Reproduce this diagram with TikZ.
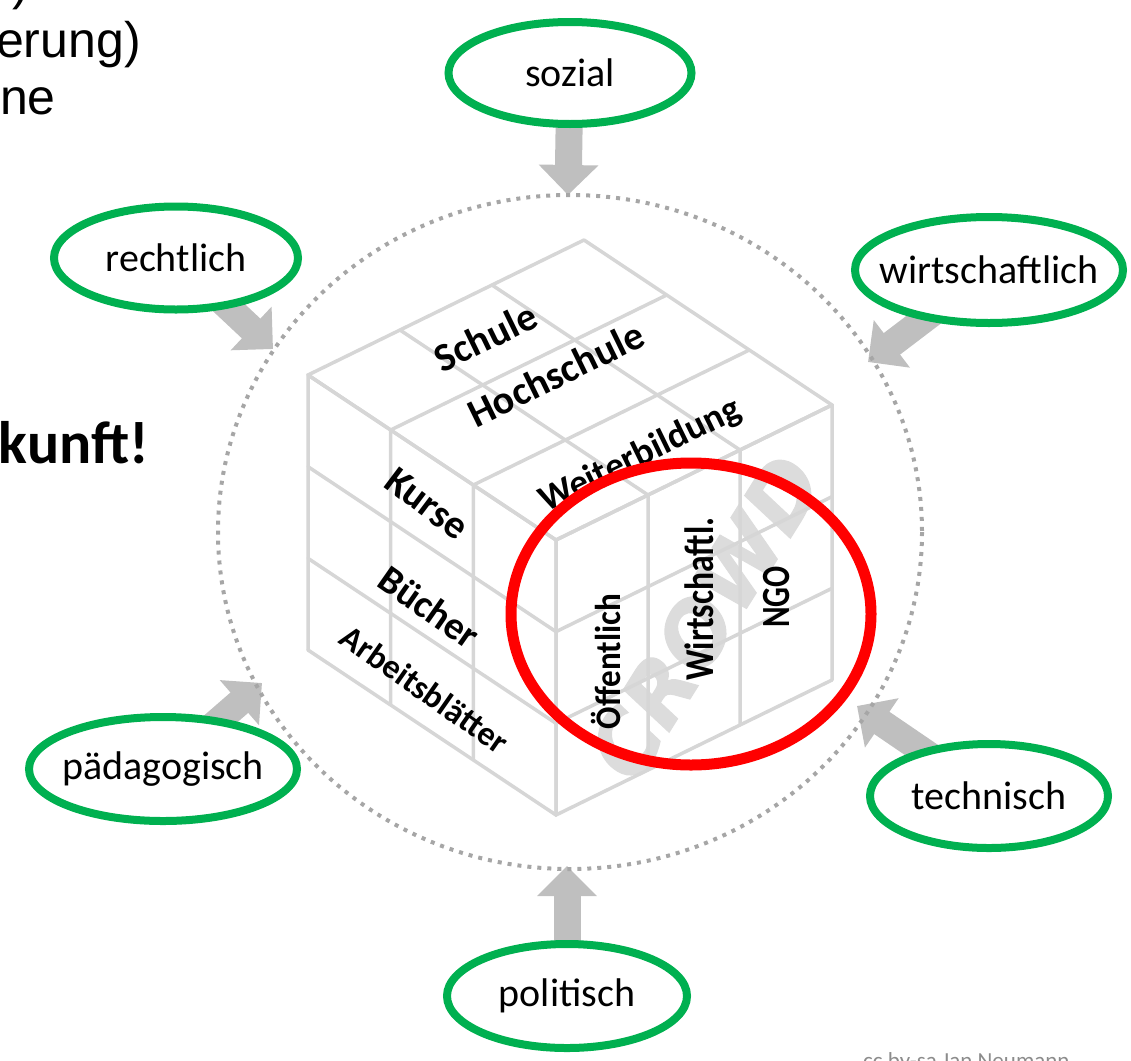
\documentclass[tikz,border=0pt]{standalone}
\usepackage{fontspec}
\setmainfont{Carlito}
\newfontfamily\arialfont{Liberation Sans}
\newfontfamily\crowdfont[FakeBold=1.5]{DejaVu Sans}
\usetikzlibrary{shapes.geometric,arrows.meta,backgrounds}
\definecolor{faktorgruen}{HTML}{00B050}
\definecolor{pfeilgrau}{HTML}{BFBFBF}
\definecolor{gittergrau}{HTML}{D6D6D6}
\definecolor{ringgrau}{HTML}{A6A6A6}
\definecolor{crowdgrau}{HTML}{DCDCDC}

\begin{document}
\begin{tikzpicture}[x=1pt,y=-1pt,
		faktor/.style={ellipse,draw=faktorgruen,line width=8pt,fill=white,inner sep=0pt,
			label={[font=\fontsize{40}{48}\selectfont]center:#1}},
		pfeil/.style={pfeilgrau,line width=27pt,-{Triangle[width=58pt,length=30pt]}},
		gitter/.style={gittergrau,line width=3.5pt,line cap=round},
		feld/.style={inner sep=0pt,font=\bfseries\fontsize{#1}{#1}\selectfont},
		zeile/.style={inner sep=0pt,font=\arialfont\fontsize{50}{58}\selectfont}]
		\useasboundingbox (0,0) rectangle (1131,1060);
		\clip (0,0) rectangle (1131,1060);
		\node[zeile,anchor=base east] (zeile1) at (29,0) {)};
		\node[zeile,anchor=base west] (zeile2) at (-4,57) {erung)};
		\node[zeile,anchor=base west] (zeile3) at (0,114) {ne};
		\node[anchor=base east,inner sep=0pt,font=\bfseries\fontsize{60}{70}\selectfont] (zukunft) at (149,463) {kunft!};
		\draw[ringgrau,line width=4pt,dash pattern=on 4pt off 6pt] (570,532) ellipse [x radius=352,y radius=337];
		\node[rotate=58,text=crowdgrau,font=\crowdfont\bfseries\itshape\fontsize{84}{90}\selectfont] (crowd) at (705,617) {CROWD};
		\begin{scope}[shift={(556,815)},x={(276pt,135pt)},y={(0pt,275pt)},z={(-248pt,165pt)}]
			\foreach \i in {0,...,3}{
				\draw[gitter] (\i/3,0,0) -- (\i/3,1,0) -- (\i/3,1,1);
				\draw[gitter] (0,0,\i/3) -- (0,1,\i/3) -- (1,1,\i/3);
				\draw[gitter] (0,\i/3,1) -- (0,\i/3,0) -- (1,\i/3,0);
			}
			\node[feld=40,rotate=26] (schule) at (0.49,1,0.83) {Schule};
			\node[feld=40,rotate=26] (hochschule) at (0.52,1,0.58) {Hochschule};
			\node[feld=37,rotate=26] (weiterbildung) at (0.44,1,0.15) {Weiterbildung};
			\node[feld=40,rotate=-37] (kurse) at (0,0.82,0.52) {Kurse};
			\node[feld=39,rotate=-35] (buecher) at (0,0.45,0.51) {Bücher};
			\node[feld=34,rotate=-35] (arbeitsblaetter) at (0,0.14,0.53) {Arbeitsblätter};
			\node[feld=36,rotate=90,xscale=0.92] (oeffentlich) at (0.18,0.47,0) {Öffentlich};
			\node[feld=41,rotate=90,xscale=0.82] (wirtschaftl) at (0.52,0.53,0) {Wirtschaftl.};
			\node[feld=40,rotate=90,xscale=0.78] (ngo) at (0.8,0.4,0) {NGO};
		\end{scope}
		\draw[red,line width=11pt] (691,614) ellipse [x radius=180,y radius=151];
		\coordinate (ring-n) at (568,195);
		\coordinate (ring-nw) at (273,349);
		\coordinate (ring-ne) at (868,362);
		\coordinate (ring-sw) at (262,683);
		\coordinate (ring-se) at (857,706);
		\coordinate (ring-s) at (567,866);
		\node[faktor=sozial,minimum width=243pt,minimum height=102pt] (sozial) at (570,73) {};
		\node[faktor=rechtlich,minimum width=244pt,minimum height=103pt] (rechtlich) at (176,258) {};
		\node[faktor=wirtschaftlich,minimum width=268pt,minimum height=106pt] (wirtschaftlich) at (989,270) {};
		\node[faktor=pädagogisch,minimum width=268pt,minimum height=104pt] (paedagogisch) at (163,769) {};
		\node[faktor=technisch,minimum width=238pt,minimum height=104pt] (technisch) at (989,796) {};
		\node[faktor=politisch,minimum width=240pt,minimum height=104pt] (politisch) at (567,996) {};
		\begin{scope}[on background layer]
			\draw[pfeil] (sozial.center) -- (ring-n);
			\draw[pfeil] (rechtlich.center) -- (ring-nw);
			\draw[pfeil] (wirtschaftlich.center) -- (ring-ne);
			\draw[pfeil] (paedagogisch.center) -- (ring-sw);
			\draw[pfeil] (technisch.center) -- (ring-se);
			\draw[pfeil] (politisch.center) -- (ring-s);
		\end{scope}
		\node[anchor=base west,inner sep=0pt,text=black!45,font=\fontsize{23}{28}\selectfont] (lizenz) at (863,1068) {cc by-sa Jan Neumann};
	\end{tikzpicture}
\end{document}
